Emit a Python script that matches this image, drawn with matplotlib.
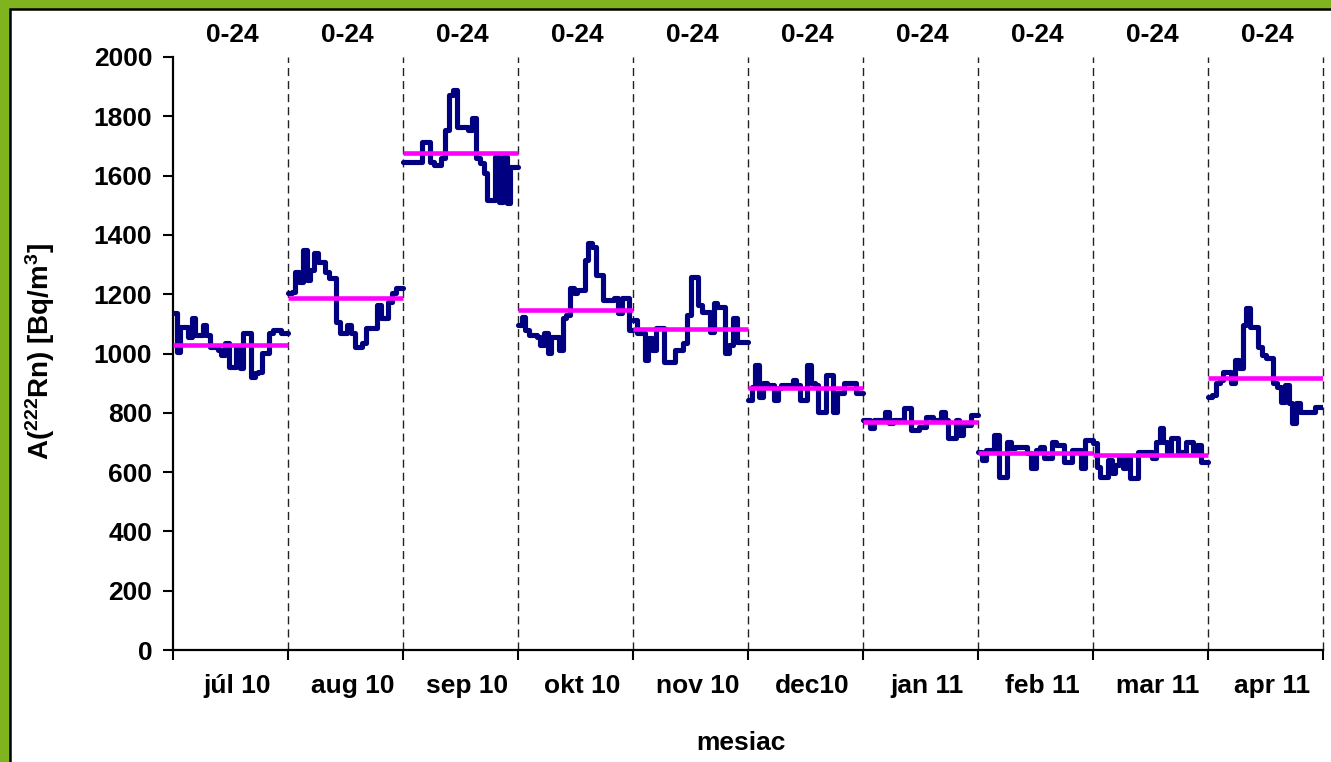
import numpy as np
import matplotlib
matplotlib.use("Agg")
import matplotlib.pyplot as plt
from matplotlib.patches import Rectangle

plt.rcParams['font.family'] = ['Liberation Sans', 'DejaVu Sans']
plt.rcParams['font.weight'] = 'bold'
plt.rcParams['mathtext.fontset'] = 'custom'
plt.rcParams['mathtext.rm'] = 'Liberation Sans:bold'
plt.rcParams['mathtext.bf'] = 'Liberation Sans:bold'

# month labels and the interval label shown above each month
months = ["júl 10", "aug 10", "sep 10", "okt 10", "nov 10",
          "dec10", "jan 11", "feb 11", "mar 11", "apr 11"]
interval = "0-24"

# daily radon activity concentration A(222Rn) [Bq/m3], one list per month
jul_10 = [1136, 1006, 1091, 1091, 1057, 1119, 1063, 1063, 1096, 1063, 1023,
          1023, 1012, 995, 1035, 956, 956, 1023, 950, 1068, 1068, 922,
          933, 939, 1001, 1001, 1068, 1079, 1079, 1068, 1068]
aug_10 = [1203, 1209, 1276, 1242, 1349, 1248, 1282, 1338, 1310, 1310, 1276,
          1254, 1254, 1107, 1068, 1068, 1096, 1068, 1023, 1023, 1035, 1085,
          1085, 1085, 1164, 1119, 1119, 1175, 1203, 1220, 1220]
sep_10 = [1647, 1647, 1647, 1647, 1647, 1715, 1715, 1647, 1636, 1636, 1658,
          1754, 1872, 1889, 1765, 1765, 1765, 1754, 1793, 1658, 1641, 1608,
          1518, 1518, 1664, 1512, 1664, 1506, 1630, 1630]
okt_10 = [1096, 1124, 1079, 1063, 1063, 1057, 1029, 1068, 1001, 1057, 1057,
          1012, 1119, 1130, 1220, 1203, 1214, 1214, 1315, 1372, 1360, 1265,
          1265, 1181, 1181, 1181, 1186, 1136, 1186, 1186, 1079]
nov_10 = [1113, 1068, 1068, 978, 1051, 1012, 1085, 1085, 973, 973, 973,
          1012, 1012, 1035, 1130, 1259, 1259, 1164, 1141, 1141, 1074, 1169,
          1158, 1158, 1001, 1029, 1119, 1040, 1040, 1040]
dec_10 = [843, 888, 961, 854, 900, 894, 894, 843, 883, 894, 894,
          894, 911, 894, 843, 843, 961, 900, 894, 804, 804, 928,
          928, 804, 866, 866, 900, 900, 900, 866, 866]
jan_11 = [776, 776, 748, 776, 776, 776, 804, 765, 776, 776, 776,
          815, 815, 742, 742, 753, 753, 787, 787, 776, 776, 804,
          776, 714, 714, 776, 725, 759, 759, 793, 793]
feb_11 = [669, 641, 675, 675, 725, 585, 585, 703, 680, 686, 686,
          686, 663, 613, 675, 686, 647, 647, 703, 691, 691, 635,
          635, 675, 675, 613, 708, 708]
mar_11 = [697, 618, 585, 585, 641, 596, 624, 647, 613, 647, 579,
          579, 669, 669, 669, 669, 647, 703, 748, 703, 669, 714,
          714, 669, 669, 703, 703, 669, 691, 635, 635]
apr_11 = [854, 860, 900, 911, 939, 939, 900, 978, 950, 1096, 1152,
          1091, 1091, 1023, 995, 984, 984, 900, 888, 838, 894, 832,
          765, 832, 804, 804, 804, 804, 821, 821]

daily = [jul_10, aug_10, sep_10, okt_10, nov_10,
         dec_10, jan_11, feb_11, mar_11, apr_11]

# monthly mean values
monthly_mean = [1030, 1187, 1675, 1148, 1081, 882, 768, 664, 657, 918]

W, H = 1331, 762
FS = 19
fig = plt.figure(figsize=(W / 100, H / 100), dpi=100, facecolor='#80b41f')

# white chart area with a thin black frame inside the green border
fig.patches.append(Rectangle((10 / W, -0.05), 1.2, 1.05 - 9 / H,
                             transform=fig.transFigure, facecolor='white',
                             edgecolor='black', linewidth=1.8, zorder=-10))

ax_l, ax_r, ax_t, ax_b = 173, 1323, 57, 650
ax = fig.add_axes([ax_l / W, 1 - ax_b / H, (ax_r - ax_l) / W, (ax_b - ax_t) / H])
ax.set_facecolor('none')
ax.set_zorder(2)

n = len(months)
for i, vals in enumerate(daily):
    k = len(vals)
    x = i + np.arange(k + 1) / k
    y = list(vals) + [vals[-1]]
    ax.plot(x, y, drawstyle='steps-post', color='#000080', lw=3.7,
            solid_joinstyle='round', solid_capstyle='round', zorder=3)
    ax.plot([i, i + 1], [monthly_mean[i]] * 2, color='#ff00ff', lw=3.3,
            solid_capstyle='butt', zorder=4)

# dashed month separators
for b in range(1, n + 1):
    ax.plot([b, b], [0, 2000], color='#222222', lw=1.0,
            linestyle=(0, (5.8, 3.6)), zorder=2, clip_on=False)

ax.set_xlim(0, n)
ax.set_ylim(0, 2000)
ax.set_yticks(np.arange(0, 2001, 200))
ax.set_xticks(np.arange(0, n + 1))
ax.set_xticklabels([])
ax.tick_params(axis='both', direction='out', length=7, width=1.5,
               labelsize=FS, color='black')
ax.tick_params(axis='y', pad=8)
for lab in ax.get_yticklabels():
    lab.set_fontweight('bold')

for s in ['top', 'right']:
    ax.spines[s].set_visible(False)
for s in ['left', 'bottom']:
    ax.spines[s].set_linewidth(1.6)

# month names under the axis and interval labels above the plot
for i, m in enumerate(months):
    xc = i + 0.56
    ax.text(xc, -43 / (ax_b - ax_t), m, transform=ax.get_xaxis_transform(),
            ha='center', va='baseline', fontsize=FS, fontweight='bold')
    ax.text(i + 0.52, 1.0 + 15 / (ax_b - ax_t), interval,
            transform=ax.get_xaxis_transform(), ha='center', va='baseline',
            fontsize=FS, fontweight='bold')

fig.text(741 / W, 1 - 750 / H, "mesiac", ha='center', va='baseline',
         fontsize=FS, fontweight='bold')
fig.text(40 / W, 1 - 352 / H, r'A($\mathregular{^{222}}$Rn) [Bq/m$\mathregular{^{3}}$]',
         rotation=90, ha='center', va='center', fontsize=FS + 1, fontweight='bold')

fig.savefig("out.png", dpi=100, facecolor=fig.get_facecolor())
